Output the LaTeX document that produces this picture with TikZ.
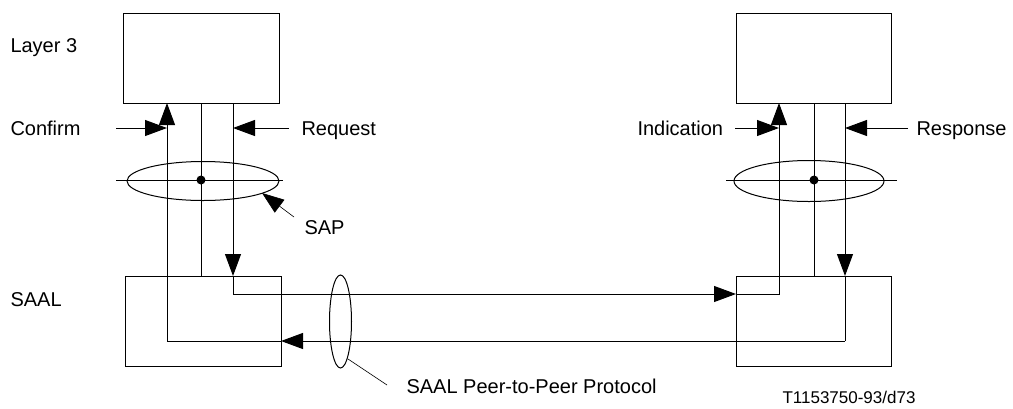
\documentclass[tikz,border=0pt]{standalone}
\usepackage{fontspec}
\setmainfont{Liberation Sans}
\usetikzlibrary{arrows.meta}
\begin{document}
\begin{tikzpicture}[x=1pt,y=-1pt,line width=1pt,
  box/.style={draw,inner sep=0pt,anchor=north west},
  arr/.style={-{Triangle[length=22pt,width=16pt]}},
  lbl/.style={anchor=base west,inner sep=0pt,font=\fontsize{20}{24}\selectfont},
  code/.style={anchor=center,inner sep=0pt,font=\fontsize{17}{20}\selectfont}]
\useasboundingbox (0,0) rectangle (1013,408);
% boxes
\node[box,minimum width=156pt,minimum height=90pt] (l3l) at (123,13) {};
\node[box,minimum width=155pt,minimum height=90pt] (l3r) at (736,13) {};
\node[box,minimum width=156pt,minimum height=90pt] (sl) at (125,276) {};
\node[box,minimum width=155pt,minimum height=90pt] (sr) at (736,276) {};
% coordinates
\coordinate (a1) at (167,103); \coordinate (a2) at (201,103); \coordinate (a3) at (233,103);
\coordinate (b1) at (779,103); \coordinate (b2) at (814,103); \coordinate (b3) at (845,103);
\coordinate (a1s) at (167,276); \coordinate (a2s) at (201,276); \coordinate (a3s) at (233,276);
\coordinate (b1s) at (779,276); \coordinate (b2s) at (814,276); \coordinate (b3s) at (845,276);
\coordinate (up) at (233,294); \coordinate (lo) at (845,341);
\coordinate (upR) at (736,294); \coordinate (loL) at (281,341);
% middle lines
\draw (a2) -- (a2s);
\draw (b2) -- (b2s);
% request -> indication path
\draw[arr] (a3) -- (a3s);
\draw (a3s) -- (up);
\draw[arr] (up) -- (upR);
\draw[arr] (upR) -| (b1);
% response -> confirm path
\draw[arr] (b3) -- (b3s);
\draw (b3s) -- (lo);
\draw[arr] (lo) -- (loL);
\draw[arr] (loL) -| (a1);
% side arrows
\coordinate (cf) at (116,128); \coordinate (cft) at (167,128);
\coordinate (rq) at (289,128); \coordinate (rqt) at (233,128);
\coordinate (in) at (735,128); \coordinate (int) at (779,128);
\coordinate (rs) at (908,128); \coordinate (rst) at (845,128);
\draw[arr] (cf) -- (cft);
\draw[arr] (rq) -- (rqt);
\draw[arr] (in) -- (int);
\draw[arr] (rs) -- (rst);
% SAP ellipses
\draw (203,181) ellipse [x radius=76, y radius=19.5];
\coordinate (hl1) at (116,180); \coordinate (hl2) at (283,180);
\draw (hl1) -- (hl2);
\fill (201,180) circle [radius=4.5];
\draw (809,181) ellipse [x radius=75, y radius=20.5];
\coordinate (hr1) at (726,180); \coordinate (hr2) at (897,180);
\draw (hr1) -- (hr2);
\fill (814,180) circle [radius=4.5];
% SAP pointer
\coordinate (sp1) at (294,217); \coordinate (sp2) at (262,193);
\draw[arr,line width=0.6pt] (sp1) -- (sp2);
% peer ellipse
\draw (340.5,321.5) ellipse [x radius=11, y radius=46.5];
\coordinate (pp1) at (348,359); \coordinate (pp2) at (387,385);
\draw[line width=0.6pt] (pp1) -- (pp2);
% labels
\node[lbl] (tl3) at (10,52) {Layer 3};
\node[lbl] (tcf) at (10,135) {Confirm};
\node[lbl] (trq) at (301,135) {Request};
\node[lbl] (tin) at (637,135) {Indication};
\node[lbl] (trs) at (916,135) {Response};
\node[lbl] (tsap) at (304,234) {SAP};
\node[lbl] (tsaal) at (10,306) {SAAL};
\node[lbl] (tpp) at (406,393) {SAAL Peer-to-Peer Protocol};
\node[code] (tcode) at (849,397) {T1153750-93/d73};
\end{tikzpicture}
\end{document}
